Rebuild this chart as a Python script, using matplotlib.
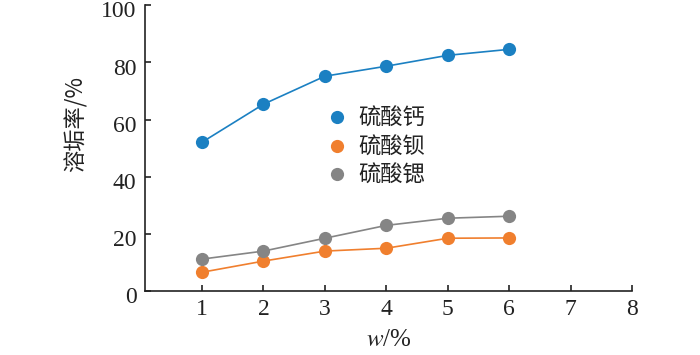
import matplotlib
matplotlib.use("Agg")
import matplotlib.pyplot as plt
import matplotlib.transforms as mtransforms

plt.rcParams['mathtext.fontset'] = 'stix'

x = [1, 2, 3, 4, 5, 6]
caso4 = [52.1, 65.4, 75.2, 78.7, 82.5, 84.6]
baso4 = [6.6, 10.5, 14.0, 15.0, 18.5, 18.6]
srso4 = [11.2, 14.0, 18.5, 23.0, 25.5, 26.2]
names = ["硫酸钙", "硫酸钡", "硫酸锶"]
colors = ["#1b80c2", "#f07f2e", "#858585"]
xticks = [1, 2, 3, 4, 5, 6, 7, 8]
yticks = [0, 20, 40, 60, 80, 100]

cjk = ["Noto Sans CJK SC", "DejaVu Sans"]
serif = ["Liberation Serif", "DejaVu Serif"]

fig = plt.figure(figsize=(7, 3.55), dpi=100)
ax = fig.add_axes([0.207, 0.180, 0.696, 0.805])

for ys, c, n in zip([caso4, baso4, srso4], colors, names):
    ax.plot(x, ys, color=c, lw=1.2, zorder=2)
    ax.plot(x, ys, 'o', color=c, ms=9.5, mec='none', zorder=3, label=n)

ax.set_xlim(0.07, 8)
ax.set_ylim(0, 100)
ax.set_xticks(xticks)
ax.set_yticks(yticks)
ax.spines['top'].set_visible(False)
ax.spines['right'].set_visible(False)
for s in ['left', 'bottom']:
    ax.spines[s].set_linewidth(1.2)
    ax.spines[s].set_color('#222222')
ax.tick_params(direction='in', length=4, width=1.2, colors='#222222', labelsize=17, pad=6)
for lab in ax.get_xticklabels() + ax.get_yticklabels():
    lab.set_family(serif)
off = mtransforms.ScaledTranslation(0, -3 / 72, fig.dpi_scale_trans)
for lab in ax.get_yticklabels():
    lab.set_transform(lab.get_transform() + off)

ax.set_ylabel("溶垢率/%", family=cjk, fontsize=16, color='#222222')
ax.yaxis.set_label_coords(-0.118, 0.584)
ax.set_xlabel("$w$/%", fontsize=18, color='#222222', labelpad=6, family=serif)

leg = ax.legend(loc='upper left', bbox_to_anchor=(0.33, 0.715), frameon=False,
                prop={'family': cjk, 'size': 16}, handletextpad=0.45,
                labelspacing=0.25, handlelength=1.0)
for t in leg.get_texts():
    t.set_color('#222222')

fig.savefig("out.png", dpi=100)
